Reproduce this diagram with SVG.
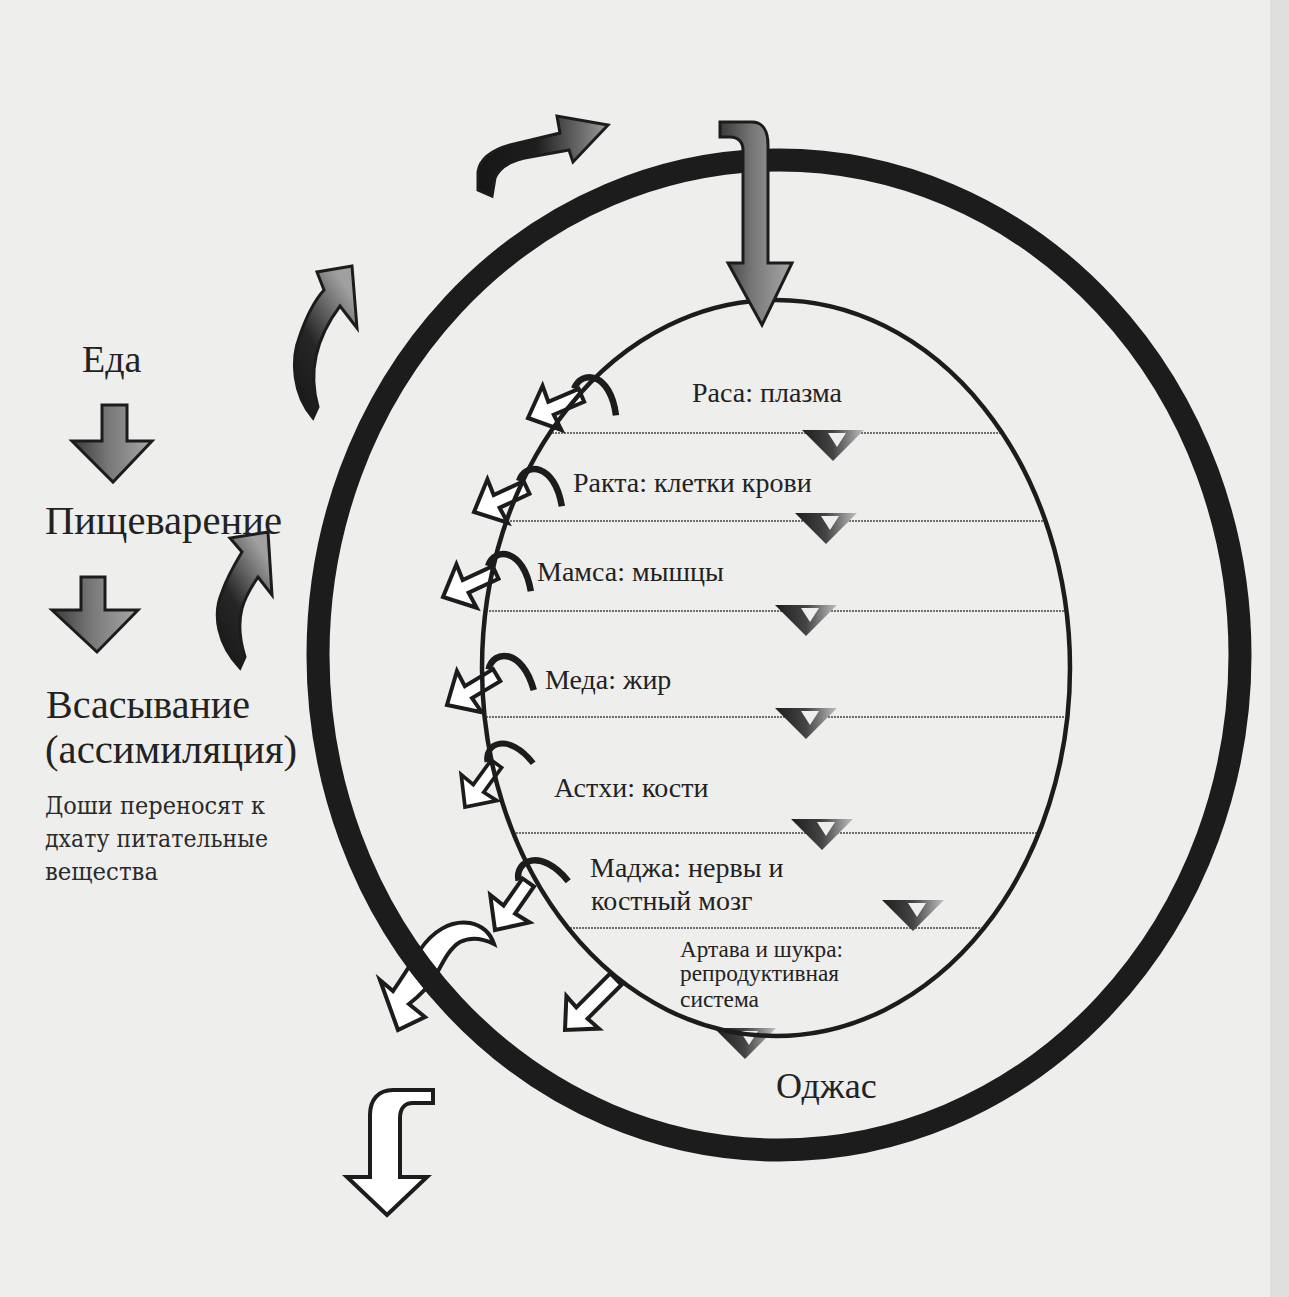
<svg xmlns="http://www.w3.org/2000/svg" xmlns:xlink="http://www.w3.org/1999/xlink" width="1289" height="1297" viewBox="0 0 1289 1297">
<defs>
<style>
.lbl{font-family:"Liberation Serif","Times New Roman",serif;fill:#222;}
.big{font-family:"Liberation Serif","Times New Roman",serif;fill:#222;}
.slab{font-family:"DejaVu Serif","Liberation Serif",serif;fill:#2a2a2a;}
.wa{fill:#fff;stroke:#1c1c1c;stroke-width:4;stroke-linejoin:miter;}
.hk{fill:none;stroke:#1c1c1c;stroke-width:6.5;stroke-linecap:butt;}
.ga{stroke:#1c1c1c;stroke-width:3;stroke-linejoin:miter;}
.dl{stroke:#444;stroke-width:1.6;stroke-dasharray:2 1;}
</style>
<linearGradient id="gGray" x1="0" y1="0" x2="1" y2="0">
<stop offset="0" stop-color="#3a3a3a"/><stop offset="0.45" stop-color="#777"/><stop offset="1" stop-color="#a8a8a8"/>
</linearGradient>
<linearGradient id="gDarkR" x1="0" y1="0" x2="1" y2="0">
<stop offset="0" stop-color="#161616"/><stop offset="0.45" stop-color="#1e1e1e"/><stop offset="1" stop-color="#9a9a9a"/>
</linearGradient>
<linearGradient id="gDarkU" x1="0" y1="1" x2="0.6" y2="0">
<stop offset="0" stop-color="#161616"/><stop offset="0.5" stop-color="#262626"/><stop offset="1" stop-color="#a0a0a0"/>
</linearGradient>
<linearGradient id="gChev" x1="0" y1="0" x2="1" y2="0">
<stop offset="0" stop-color="#1e1e1e"/><stop offset="0.5" stop-color="#444"/><stop offset="1" stop-color="#c0c0c0"/>
</linearGradient>
<g id="chev">
<polygon points="-31,0 31,0 0,31" fill="url(#gChev)"/>
<polygon points="-5,3 13,3 4,17" fill="#eeeeec"/>
</g>
<g id="hook">
<path class="wa" d="M0,0 L26,-24 L25,-7 L58,-7 L58,7 L25,7 L26,24 Z"/>
<path class="hk" d="M54,-9 C68,-24 94,-10 82,32"/>
</g>
<clipPath id="innerClip"><ellipse cx="776" cy="668" rx="292" ry="366"/></clipPath>
</defs>
<rect x="0" y="0" width="1289" height="1297" fill="#eeeeec"/>
<rect x="1270" y="0" width="19" height="1297" fill="#dededc"/>

<g id="connectors">
<path id="arrow-h" class="wa" stroke-width="3.5" d="M398,1030 L380,980 L393,991 C402,978 410,965 420,950 C432,932 450,920 470,923 C484,926 491,935 494,944 C484,939 472,936 460,942 C450,948 444,960 436,975 C428,988 418,997 409,1004 L425,1017 Z"/>
</g>

<g id="outer-ring">
<ellipse cx="779" cy="655" rx="461" ry="495" fill="none" stroke="#1c1c1c" stroke-width="23"/>
</g>

<g id="tissue-lines" clip-path="url(#innerClip)">
<line class="dl" x1="450" y1="433" x2="1100" y2="433"/>
<line class="dl" x1="450" y1="521" x2="1100" y2="521"/>
<line class="dl" x1="450" y1="611" x2="1100" y2="611"/>
<line class="dl" x1="450" y1="717" x2="1100" y2="717"/>
<line class="dl" x1="450" y1="833" x2="1100" y2="833"/>
<line class="dl" x1="450" y1="928" x2="1100" y2="928"/>
</g>

<g id="chevrons">
<use xlink:href="#chev" href="#chev" transform="translate(833,430)"/>
<use xlink:href="#chev" href="#chev" transform="translate(826,513)"/>
<use xlink:href="#chev" href="#chev" transform="translate(806,605)"/>
<use xlink:href="#chev" href="#chev" transform="translate(806,708)"/>
<use xlink:href="#chev" href="#chev" transform="translate(822,819)"/>
<use xlink:href="#chev" href="#chev" transform="translate(913,900)"/>
<use xlink:href="#chev" href="#chev" transform="translate(745,1028)"/>
</g>

<g id="connectors-inner">
<use xlink:href="#hook" href="#hook" transform="translate(528,418) rotate(-23)"/>
<use xlink:href="#hook" href="#hook" transform="translate(474,512) rotate(-25)"/>
<use xlink:href="#hook" href="#hook" transform="translate(443,597) rotate(-25)"/>
<use xlink:href="#hook" href="#hook" transform="translate(447,705) rotate(-31)"/>
<use xlink:href="#hook" href="#hook" transform="translate(465,807) rotate(-54) scale(0.92)"/>
<use xlink:href="#hook" href="#hook" transform="translate(495,930) rotate(-55)"/>
<path class="wa" transform="translate(565,1030) rotate(-45)" d="M0,0 L25,-23 L24,-8 L72,-8 L72,8 L24,8 L25,23 Z"/>
</g>

<g id="inner-ring">
<ellipse cx="776" cy="668" rx="294" ry="368" fill="none" stroke="#1c1c1c" stroke-width="4.5"/>
</g>

<g id="connectors-outer">
<path class="ga" fill="url(#gGray)" d="M720,122 L752,122 C762,122 768,130 768,145 L768,263 L792,263 L762,325 L728,263 L743,263 L743,150 C743,142 738,137 730,137 L720,137 Z"/>
<path class="ga" fill="url(#gDarkR)" d="M478,190 L478,172 C480,158 492,150 510,145 L560,133 L557,116 L608,125 L573,162 L569,150 L530,157 C512,160 500,166 495,178 L492,196 Z"/>
<path class="ga" fill="url(#gDarkU)" d="M352,266 L357,328 L340,306 C322,330 306,365 318,407 L313,418 C293,395 290,360 300,335 C307,315 315,300 324,290 L317,272 Z"/>
<path class="ga" fill="url(#gDarkU)" d="M268,532 L272,595 L258,577 C246,595 232,615 245,657 L240,668 C218,645 212,615 222,592 C228,575 236,562 242,552 L230,538 Z"/>
<path class="ga" fill="url(#gGray)" d="M102,405 L127,405 L127,441 L152,441 L113,482 L72,441 L102,441 Z"/>
<path class="ga" fill="url(#gGray)" d="M81,577 L105,577 L105,610 L138,610 L97,652 L52,610 L81,610 Z"/>
<path class="wa" stroke-width="3.5" d="M433,1090 L393,1090 C378,1090 370,1100 370,1115 L370,1177 L347,1177 L387,1215 L427,1177 L400,1177 L400,1118 C400,1108 405,1103 413,1103 L433,1103 Z"/>
</g>

<g id="node-eda"><text class="big" x="82" y="372" font-size="38">Еда</text></g>
<g id="node-digestion"><text class="big" x="45" y="534" font-size="40" textLength="237" lengthAdjust="spacingAndGlyphs">Пищеварение</text></g>
<g id="node-absorption">
<text class="big" x="46" y="718" font-size="40" textLength="204" lengthAdjust="spacingAndGlyphs">Всасывание</text>
<text class="big" x="45" y="763" font-size="40" textLength="252" lengthAdjust="spacingAndGlyphs">(ассимиляция)</text>
</g>
<g id="node-doshi">
<text class="slab" x="45" y="814" font-size="24" textLength="220" lengthAdjust="spacingAndGlyphs">Доши переносят к</text>
<text class="slab" x="45" y="847" font-size="24" textLength="223" lengthAdjust="spacingAndGlyphs">дхату питательные</text>
<text class="slab" x="45" y="880" font-size="24" textLength="113" lengthAdjust="spacingAndGlyphs">вещества</text>
</g>
<g id="node-rasa"><text class="lbl" x="692" y="402" font-size="28">Раса: плазма</text></g>
<g id="node-rakta"><text class="lbl" x="573" y="492" font-size="28">Ракта: клетки крови</text></g>
<g id="node-mamsa"><text class="lbl" x="537" y="581" font-size="28">Мамса: мышцы</text></g>
<g id="node-meda"><text class="lbl" x="545" y="689" font-size="28">Меда: жир</text></g>
<g id="node-asthi"><text class="lbl" x="554" y="797" font-size="28">Астхи: кости</text></g>
<g id="node-majja">
<text class="lbl" x="590" y="877" font-size="28">Маджа: нервы и</text>
<text class="lbl" x="591" y="910" font-size="28">костный мозг</text>
</g>
<g id="node-shukra">
<text class="lbl" x="680" y="957" font-size="24" textLength="163" lengthAdjust="spacingAndGlyphs">Артава и шукра:</text>
<text class="lbl" x="680" y="981" font-size="24" textLength="159" lengthAdjust="spacingAndGlyphs">репродуктивная</text>
<text class="lbl" x="680" y="1007" font-size="24" textLength="79" lengthAdjust="spacingAndGlyphs">система</text>
</g>
<g id="node-ojas"><text class="lbl" x="776" y="1098" font-size="36">Оджас</text></g>
</svg>
